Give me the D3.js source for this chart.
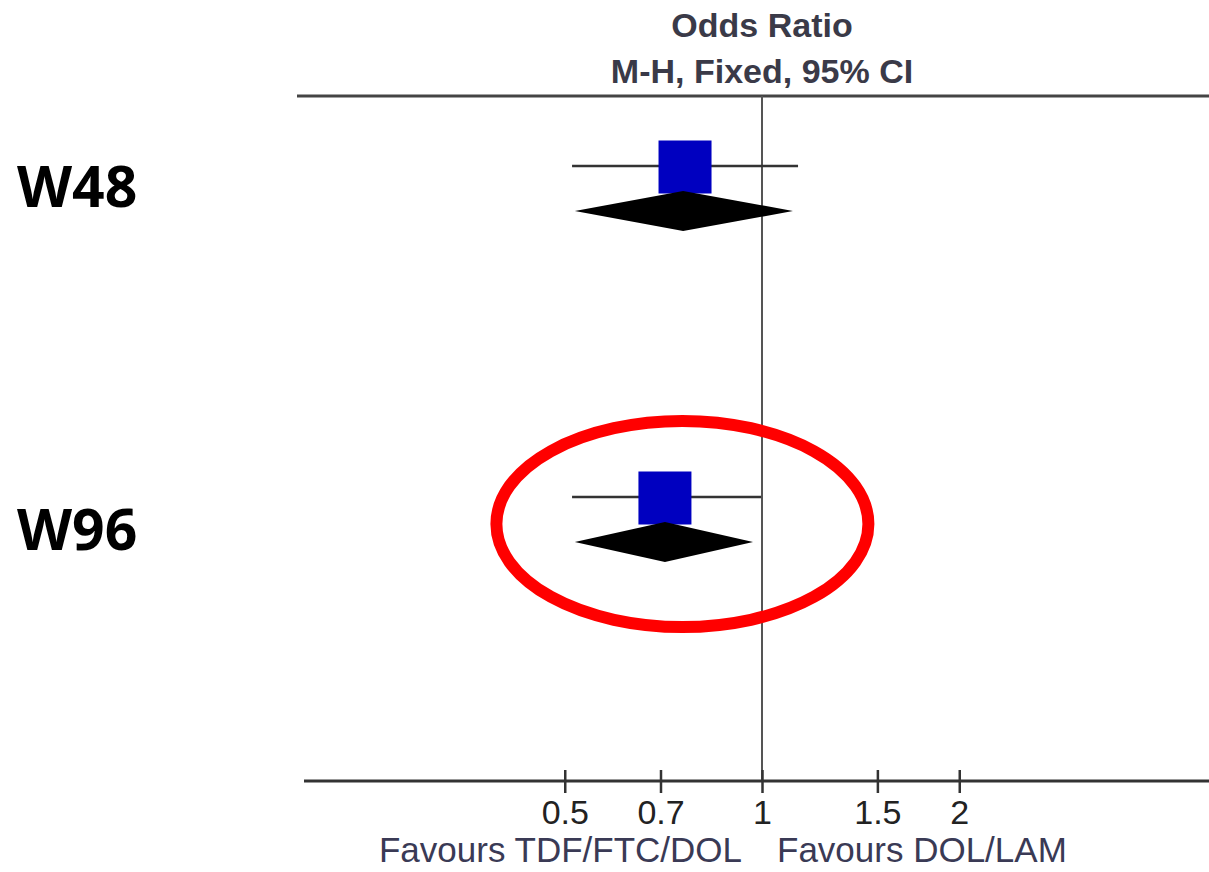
<!DOCTYPE html>
<html>
<head>
<meta charset="utf-8">
<script src="https://cdn.jsdelivr.net/npm/d3@7"></script>
<style>
  body { margin: 0; background: #fff; }
  svg { display: block; }
</style>
</head>
<body>
<div id="chart"></div>
<script>
// rows of the forest plot
var rowLabels = ["W48", "W96"];
var studyOR = [0.763, 0.711];
var studyLo = [0.513, 0.513];
var studyHi = [1.135, 0.997];
var studyWeight = [100, 100];
var totalOR = [0.758, 0.711];
var totalLo = [0.518, 0.518];
var totalHi = [1.115, 0.969];
var tickValues = [0.5, 0.7, 1, 1.5, 2];
var leftLabel = "Favours TDF/FTC/DOL";
var rightLabel = "Favours DOL/LAM";

var width = 1209, height = 872;

var svg = d3.select("#chart").append("svg")
    .attr("width", width)
    .attr("height", height);

var x = d3.scaleLog()
    .domain([0.2, 5])
    .range([304, 1220]);

var y = d3.scaleLinear()
    .domain([0, 1])
    .range([166, 497]);

// row labels sit on their own baseline scale
var labelY = d3.scaleLinear()
    .domain([0, 1])
    .range([207, 550]);

var size = d3.scaleSqrt()
    .domain([0, 100])
    .range([0, 53]);

var axisY = 781, topY = 96;

// header
svg.append("text")
    .attr("x", x(1)).attr("y", 37)
    .attr("text-anchor", "middle")
    .style("font-family", "'Liberation Sans', Arial, sans-serif")
    .style("font-weight", "bold")
    .style("font-size", "34px")
    .style("fill", "#3a3a48")
    .text("Odds Ratio");

svg.append("text")
    .attr("x", x(1)).attr("y", 83)
    .attr("text-anchor", "middle")
    .style("font-family", "'Liberation Sans', Arial, sans-serif")
    .style("font-weight", "bold")
    .style("font-size", "34px")
    .style("fill", "#3a3a48")
    .text("M-H, Fixed, 95% CI");

svg.append("line")
    .attr("x1", 297).attr("x2", width)
    .attr("y1", topY).attr("y2", topY)
    .style("stroke", "#444")
    .style("stroke-width", 3);

// line of no effect
svg.append("line")
    .attr("x1", x(1)).attr("x2", x(1))
    .attr("y1", topY).attr("y2", axisY)
    .style("stroke", "#555")
    .style("stroke-width", 2);

var rows = rowLabels.map(function(d, i) {
    return { label: d, or: studyOR[i], lo: studyLo[i], hi: studyHi[i], w: studyWeight[i],
             tor: totalOR[i], tlo: totalLo[i], thi: totalHi[i], i: i };
});

var g = svg.selectAll("g.row")
    .data(rows)
    .enter().append("g")
    .attr("class", "row");

g.append("text")
    .attr("x", 17)
    .attr("y", function(d) { return labelY(d.i); })
    .style("font-family", "'Open Sans', sans-serif")
    .style("font-weight", "bold")
    .style("font-size", "57px")
    .style("fill", "#000")
    .text(function(d) { return d.label; });

g.append("line")
    .attr("x1", function(d) { return x(d.lo); })
    .attr("x2", function(d) { return x(d.hi); })
    .attr("y1", function(d) { return y(d.i); })
    .attr("y2", function(d) { return y(d.i); })
    .style("stroke", "#333")
    .style("stroke-width", 2.5);

g.append("rect")
    .attr("x", function(d) { return x(d.or) - size(d.w) / 2; })
    .attr("y", function(d) { return y(d.i) - size(d.w) / 2 + 1; })
    .attr("width", function(d) { return size(d.w); })
    .attr("height", function(d) { return size(d.w); })
    .style("fill", "#0000c0");

g.append("path")
    .attr("d", function(d) {
        var cy = y(d.i) + 45;
        return "M" + x(d.tlo) + "," + cy +
            "L" + x(d.tor) + "," + (cy - 20) +
            "L" + x(d.thi) + "," + cy +
            "L" + x(d.tor) + "," + (cy + 20) + "Z";
    })
    .style("fill", "#000");

// highlight around W96
svg.append("ellipse")
    .attr("cx", x(0.756))
    .attr("cy", y(1) + 27)
    .attr("rx", 186)
    .attr("ry", 103)
    .style("fill", "none")
    .style("stroke", "#ff0000")
    .style("stroke-width", 12);

// x axis
var axis = svg.append("g")
    .attr("transform", "translate(0," + axisY + ")")
    .call(d3.axisBottom(x)
        .tickValues(tickValues)
        .tickFormat(d3.format("~g"))
        .tickSize(12)
        .tickPadding(30));

axis.select(".domain").remove();
axis.insert("line", ":first-child")
    .attr("x1", 304).attr("x2", width)
    .style("stroke", "#333")
    .style("stroke-width", 3);
axis.selectAll(".tick line")
    .attr("y1", -11)
    .attr("y2", 12)
    .style("stroke", "#333")
    .style("stroke-width", 2.5);
axis.selectAll(".tick text")
    .attr("dy", null)
    .attr("y", 43)
    .style("font-family", "'Liberation Sans Narrow', 'Liberation Sans', Arial, sans-serif")
    .style("font-size", "34px")
    .style("fill", "#222");

svg.append("text")
    .attr("x", 742).attr("y", 862)
    .attr("text-anchor", "end")
    .style("font-family", "'Liberation Sans', Arial, sans-serif")
    .style("font-size", "35px")
    .style("fill", "#3a3a55")
    .text(leftLabel);

svg.append("text")
    .attr("x", 777).attr("y", 862)
    .style("font-family", "'Liberation Sans', Arial, sans-serif")
    .style("font-size", "35px")
    .style("fill", "#3a3a55")
    .text(rightLabel);
</script>
</body>
</html>
